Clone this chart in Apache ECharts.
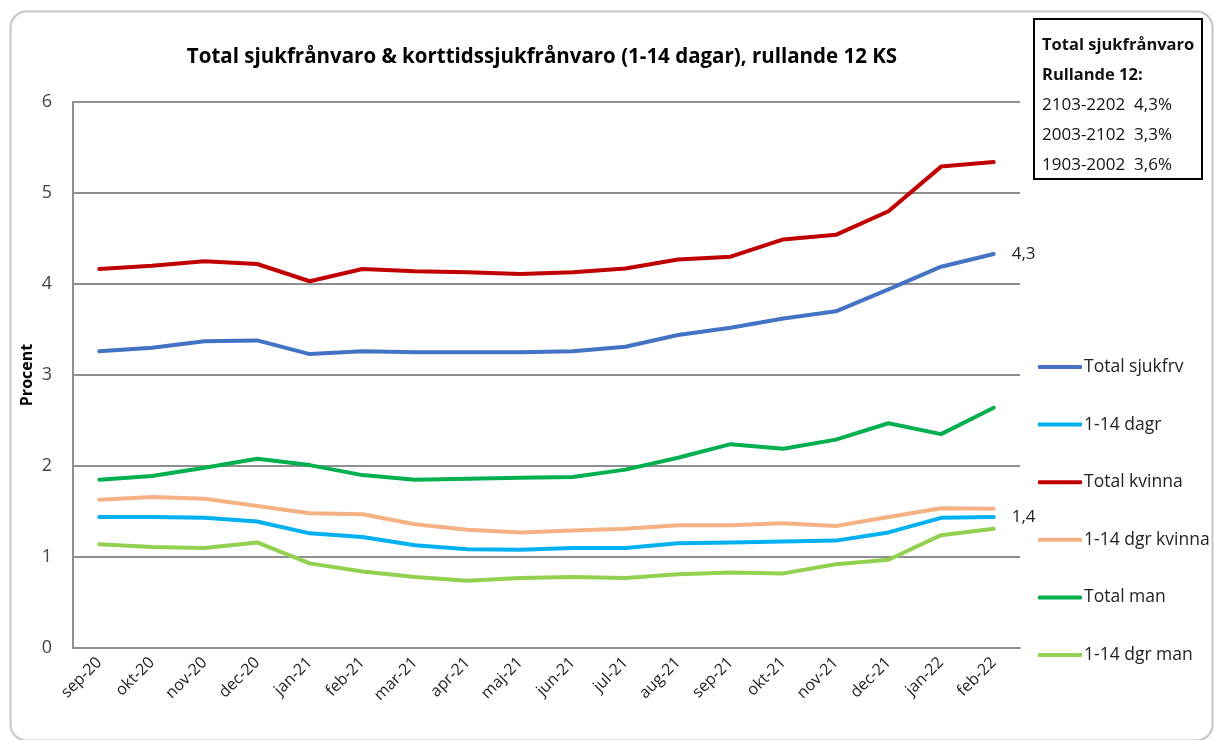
<!DOCTYPE html>
<html>
<head>
<meta charset="utf-8">
<script src="https://cdn.jsdelivr.net/npm/echarts@6/dist/echarts.min.js"></script>
<style>html,body{margin:0;padding:0;background:#fff}#c{width:1214px;height:740px}</style>
</head>
<body>
<div id="c"></div>
<script>
const categories = ['sep-20','okt-20','nov-20','dec-20','jan-21','feb-21','mar-21','apr-21','maj-21','jun-21','jul-21','aug-21','sep-21','okt-21','nov-21','dec-21','jan-22','feb-22'];
const totalSjukfrv = [3.26,3.30,3.37,3.38,3.23,3.26,3.25,3.25,3.25,3.26,3.31,3.44,3.52,3.62,3.70,3.94,4.19,4.33];
const dagr114 = [1.44,1.44,1.43,1.39,1.26,1.22,1.13,1.085,1.08,1.10,1.10,1.15,1.16,1.17,1.18,1.27,1.43,1.44];
const totalKvinna = [4.165,4.20,4.25,4.22,4.03,4.165,4.14,4.13,4.11,4.13,4.17,4.27,4.30,4.49,4.54,4.80,5.29,5.34];
const dgrKvinna = [1.63,1.66,1.64,1.56,1.48,1.47,1.36,1.30,1.27,1.29,1.31,1.35,1.35,1.37,1.34,1.44,1.535,1.53];
const totalMan = [1.85,1.89,1.98,2.08,2.01,1.90,1.85,1.86,1.87,1.88,1.96,2.09,2.24,2.19,2.29,2.47,2.35,2.64];
const dgrMan = [1.14,1.11,1.10,1.16,0.93,0.84,0.78,0.74,0.77,0.78,0.77,0.81,0.83,0.82,0.92,0.97,1.24,1.31];
const seriesNames = ['Total sjukfrv','1-14 dagr','Total kvinna','1-14 dgr kvinna','Total man','1-14 dgr man'];
const seriesColors = ['#4472C4','#00B0F0','#C00000','#F4B183','#00B050','#92D050'];
const seriesData = [totalSjukfrv, dagr114, totalKvinna, dgrKvinna, totalMan, dgrMan];
const endLabelSeries = ['Total sjukfrv','1-14 dagr'];
const yTicks = [0,1,2,3,4,5,6];
const titleText = 'Total sjukfrånvaro & korttidssjukfrånvaro (1-14 dagar), rullande 12 KS';
const boxLines = ['Total sjukfrånvaro','Rullande 12:','2103-2202  4,3%','2003-2102  3,3%','1903-2002  3,6%'];
const boxBold = [true,true,false,false,false];

const fontFam = 'Open Sans, DejaVu Sans, sans-serif';
const chart = echarts.init(document.getElementById('c'));
const fmt = v => String(Math.round(v*10)/10).replace('.', ',');

chart.setOption({
  animation: false,
  backgroundColor: '#fff',
  title: {
    text: titleText, left: 537, top: 42, textAlign: 'center',
    textStyle: {fontFamily: fontFam, fontSize: 20.5, fontWeight: 'bold', color: '#000'}
  },
  grid: {left: 73, right: 194, top: 102, bottom: 92},
  legend: {
    orient: 'vertical', left: 1033, top: 352,
    itemWidth: 44, itemHeight: 4, itemGap: 37.6, icon: 'roundRect',
    textStyle: {fontFamily: fontFam, fontSize: 17.5, color: '#222', padding: [0,0,0,-3], lineHeight: 20},
    data: seriesNames
  },
  xAxis: {
    type: 'category', data: categories, boundaryGap: true,
    axisLine: {lineStyle: {color: '#8f8f8f', width: 2}},
    axisTick: {show: false},
    axisLabel: {rotate: 45, fontFamily: fontFam, fontSize: 16, color: '#222', margin: 12, interval: 0}
  },
  yAxis: {
    type: 'value', min: 0, max: 6, interval: 1,
    name: 'Procent', nameLocation: 'middle', nameGap: 38, nameRotate: 90, nameMoveOverlap: false,
    nameTextStyle: {fontFamily: fontFam, fontSize: 16, fontWeight: 'bold', color: '#000'},
    axisLine: {show: true, lineStyle: {color: '#8f8f8f', width: 2}},
    axisTick: {show: false},
    axisLabel: {fontFamily: fontFam, fontSize: 18, color: '#444', margin: 21,
      formatter: v => yTicks.includes(v) ? String(v) : ''},
    splitLine: {lineStyle: {color: '#8f8f8f', width: 2}}
  },
  series: seriesNames.map((n, i) => ({
    name: n, type: 'line', data: seriesData[i], showSymbol: false, symbol: 'none',
    lineStyle: {width: 4, color: seriesColors[i], cap: 'round', join: 'round'},
    itemStyle: {color: seriesColors[i]},
    endLabel: endLabelSeries.includes(n) ? {
      show: true, distance: 18, formatter: p => fmt(p.value),
      fontFamily: fontFam, fontSize: 17, color: '#222'
    } : {show: false}
  })),
  graphic: [
    {type: 'rect', left: 8, top: 9, shape: {width: 1202, height: 729, r: 16},
     style: {fill: 'none', stroke: '#c4c4c4', lineWidth: 2}, silent: true, z: -10},
    {type: 'rect', left: 1033, top: 18, shape: {width: 168, height: 160},
     style: {fill: '#fff', stroke: '#000', lineWidth: 2}, z: 10},
    ...boxLines.map((t, i) => ({
      type: 'text', left: 1042, top: 37 + i * 30, z: 11,
      style: {text: t, fontFamily: fontFam, fontSize: boxBold[i] ? 16.5 : 17, fontWeight: boxBold[i] ? 'bold' : 'normal', fill: '#111'}
    }))
  ]
});
</script>
</body>
</html>
